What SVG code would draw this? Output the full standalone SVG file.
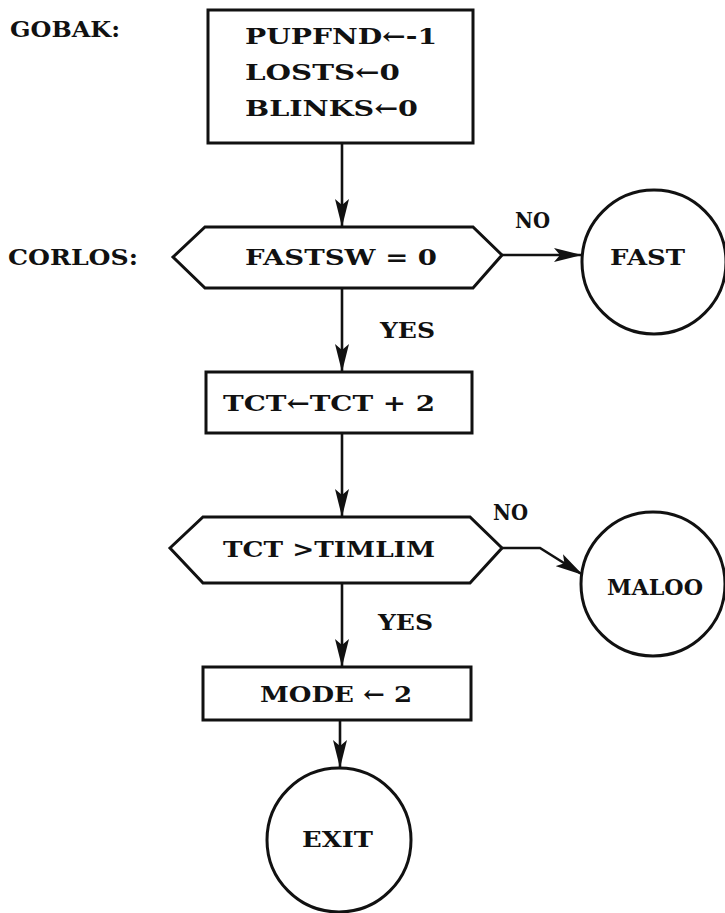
<svg xmlns="http://www.w3.org/2000/svg" width="725" height="913" viewBox="0 0 725 913">
<style>
.t{font-family:"DejaVu Serif","Liberation Serif",serif;font-size:23px;font-weight:bold;fill:#111}
.s{fill:#fff;stroke:#111;stroke-width:3}
.c{fill:none;stroke:#111;stroke-width:2.6}
</style>
<defs>
<marker id="ah" markerUnits="userSpaceOnUse" markerWidth="30" markerHeight="14" refX="28" refY="7" orient="auto">
<path d="M0,0 L28,7 L0,14 L6,7 z" fill="#111"/>
</marker>
</defs>
<rect width="725" height="913" fill="#fff"/>
<text class="t" x="10" y="37" textLength="110" lengthAdjust="spacingAndGlyphs">GOBAK:</text>
<text class="t" x="8" y="265" textLength="130" lengthAdjust="spacingAndGlyphs">CORLOS:</text>
<g id="connectors">
<path class="c" d="M342,143 L342,227" marker-end="url(#ah)"/>
<path class="c" d="M502,255 L582,255" marker-end="url(#ah)"/>
<path class="c" d="M342,288 L342,372" marker-end="url(#ah)"/>
<path class="c" d="M342,433 L342,517" marker-end="url(#ah)"/>
<path class="c" d="M502,548 L540,548 L583,575" marker-end="url(#ah)"/>
<path class="c" d="M342,583 L342,667" marker-end="url(#ah)"/>
<path class="c" d="M340,720 L340,768" marker-end="url(#ah)"/>
<text class="t" x="515" y="228" textLength="35" lengthAdjust="spacingAndGlyphs">NO</text>
<text class="t" x="380" y="338" textLength="55" lengthAdjust="spacingAndGlyphs">YES</text>
<text class="t" x="493" y="520" textLength="35" lengthAdjust="spacingAndGlyphs">NO</text>
<text class="t" x="378" y="630" textLength="55" lengthAdjust="spacingAndGlyphs">YES</text>
</g>
<g id="gobak">
<rect class="s" x="208" y="10" width="265" height="133"/>
<text class="t" x="245" y="44" textLength="192" lengthAdjust="spacingAndGlyphs">PUPFND←-1</text>
<text class="t" x="245" y="80" textLength="155" lengthAdjust="spacingAndGlyphs">LOSTS←0</text>
<text class="t" x="245" y="116" textLength="173" lengthAdjust="spacingAndGlyphs">BLINKS←0</text>
</g>
<g id="fastsw">
<path class="s" d="M173,257 L205,227 L473,227 L502,255 L473,288 L205,288 z"/>
<text class="t" x="245" y="265" textLength="192" lengthAdjust="spacingAndGlyphs">FASTSW = 0</text>
</g>
<g id="fast">
<circle class="s" cx="654" cy="262" r="72"/>
<text class="t" x="610" y="265" textLength="75" lengthAdjust="spacingAndGlyphs">FAST</text>
</g>
<g id="tct">
<rect class="s" x="206" y="372" width="266" height="61"/>
<text class="t" x="223" y="411" textLength="212" lengthAdjust="spacingAndGlyphs">TCT←TCT + 2</text>
</g>
<g id="timlim">
<path class="s" d="M170,548 L203,517 L470,517 L502,548 L470,583 L203,583 z"/>
<text class="t" x="223" y="557" textLength="212" lengthAdjust="spacingAndGlyphs">TCT &gt;TIMLIM</text>
</g>
<g id="maloo">
<circle class="s" cx="653" cy="584" r="72"/>
<text class="t" x="607" y="595" textLength="96" lengthAdjust="spacingAndGlyphs">MALOO</text>
</g>
<g id="mode">
<rect class="s" x="203" y="667" width="268" height="53"/>
<text class="t" x="260" y="702" textLength="152" lengthAdjust="spacingAndGlyphs">MODE ← 2</text>
</g>
<g id="exit">
<circle class="s" cx="339" cy="840" r="72"/>
<text class="t" x="302" y="847" textLength="71" lengthAdjust="spacingAndGlyphs">EXIT</text>
</g>
</svg>
